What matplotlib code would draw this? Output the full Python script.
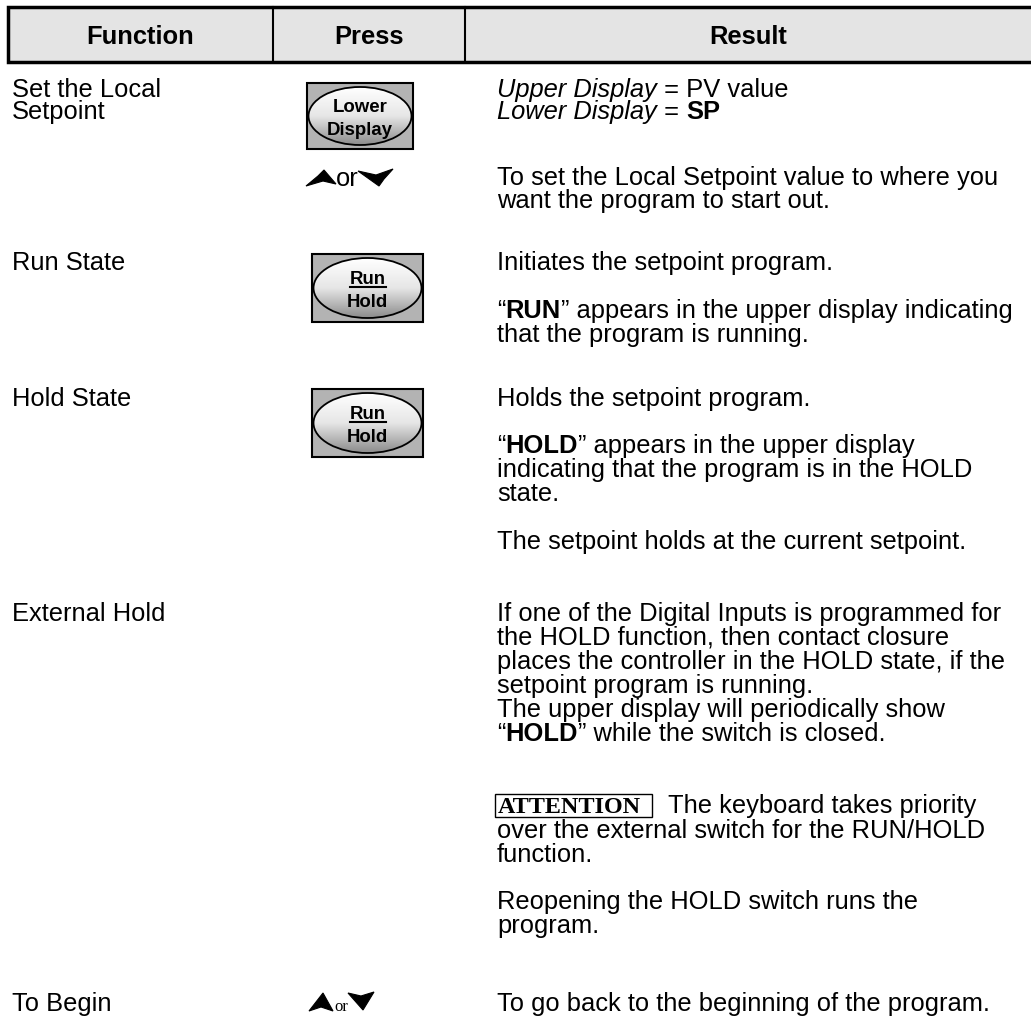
import numpy as np
import matplotlib.pyplot as plt
from matplotlib.patches import Rectangle, Ellipse, Polygon
from matplotlib.colors import LinearSegmentedColormap

plt.rcParams['font.family'] = ['Liberation Sans', 'DejaVu Sans']

# Данные таблицы
headers = ['Function', 'Press', 'Result']
function_labels = ['Set the Local', 'Setpoint', 'Run State', 'Hold State', 'External Hold', 'To Begin']
button_tops = ['Lower', 'Run', 'Run']
button_bottoms = ['Display', 'Hold', 'Hold']
button_underline = [False, True, True]
attention_word = 'ATTENTION'
result_lines = [
    [('Upper Display', 'i'), (' = PV value', 'n')],
    [('Lower Display', 'i'), (' = ', 'n'), ('SP', 'b')],
    [('To set the Local Setpoint value to where you', 'n')],
    [('want the program to start out.', 'n')],
    [('Initiates the setpoint program.', 'n')],
    [('\u201c', 'n'), ('RUN', 'b'), ('\u201d appears in the upper display indicating', 'n')],
    [('that the program is running.', 'n')],
    [('Holds the setpoint program.', 'n')],
    [('\u201c', 'n'), ('HOLD', 'b'), ('\u201d appears in the upper display', 'n')],
    [('indicating that the program is in the HOLD', 'n')],
    [('state.', 'n')],
    [('The setpoint holds at the current setpoint.', 'n')],
    [('If one of the Digital Inputs is programmed for', 'n')],
    [('the HOLD function, then contact closure', 'n')],
    [('places the controller in the HOLD state, if the', 'n')],
    [('setpoint program is running.', 'n')],
    [('The upper display will periodically show', 'n')],
    [('\u201c', 'n'), ('HOLD', 'b'), ('\u201d while the switch is closed.', 'n')],
    [('The keyboard takes priority', 'n')],
    [('over the external switch for the RUN/HOLD', 'n')],
    [('function.', 'n')],
    [('Reopening the HOLD switch runs the', 'n')],
    [('program.', 'n')],
    [('To go back to the beginning of the program.', 'n')],
]

# Разметка (пиксели, y вниз)
W, H = 1031, 1023
fs = 18.4
function_y = [97, 119, 270, 406, 621, 1011]
result_y = [97, 119, 185, 208, 270, 318, 342, 406, 453, 477, 501, 549,
            621, 645, 669, 693, 717, 741, 813, 838, 862, 909, 933, 1011]
result_x = [497] * len(result_lines)
result_x[18] = 668
button_boxes = [(307, 83, 106, 66), (312, 254, 111, 68), (312, 389, 111, 68)]

fig = plt.figure(figsize=(W / 100, H / 100), dpi=100)
ax = fig.add_axes([0, 0, 1, 1])
ax.axis('off')
renderer = fig.canvas.get_renderer()

# Шапка таблицы
ax.add_patch(Rectangle((8, 7), 1040, 55, fc='#e4e4e4', ec='black', lw=2.5))
for xv in [273, 465]:
    ax.plot([xv, xv], [7, 62], color='black', lw=1.5)
for name, xc in zip(headers, [140, 369, 748]):
    ax.text(xc, 44, name, ha='center', va='baseline', fontsize=fs, fontweight='bold')

# Первая колонка
for label, yb in zip(function_labels, function_y):
    ax.text(12, yb, label, va='baseline', fontsize=fs)

styles = {'n': dict(), 'i': dict(fontstyle='italic'), 'b': dict(fontweight='bold')}


def run_width(s, size=fs, **kw):
    t1 = ax.text(0, 0, s + '|', fontsize=size, **kw)
    t2 = ax.text(0, 0, '|', fontsize=size, **kw)
    w = t1.get_window_extent(renderer).width - t2.get_window_extent(renderer).width
    t1.remove()
    t2.remove()
    return w


# Третья колонка, с разным начертанием
for runs, x0, yb in zip(result_lines, result_x, result_y):
    x = x0
    for s, st in runs:
        ax.text(x, yb, s, va='baseline', fontsize=fs, **styles[st])
        x += run_width(s, **styles[st])

# Рамка ATTENTION
ax.add_patch(Rectangle((495, 794), 157, 23, fc='none', ec='black', lw=1.0))
ax.text(498, 813, attention_word, va='baseline', fontsize=17.4, fontweight='bold',
        family=['Liberation Serif', 'DejaVu Serif'])

# Кнопки
cmap = LinearSegmentedColormap.from_list('btn', ['#ffffff', '#e6e6e6', '#8c8c8c'])
grad = np.linspace(0, 1, 200).reshape(-1, 1)
for (x0, y0, w, h), top, bot, ul in zip(button_boxes, button_tops, button_bottoms, button_underline):
    ax.add_patch(Rectangle((x0, y0), w, h, fc='#b3b3b3', ec='black', lw=1.5))
    ell = Ellipse((x0 + w / 2, y0 + h / 2), w - 3, h - 8, fc='none', ec='black', lw=1.3)
    im = ax.imshow(grad, cmap=cmap, extent=(x0, x0 + w, y0 + h - 4, y0 + 4),
                   aspect='auto', interpolation='bilinear', zorder=2)
    ax.add_patch(ell)
    ell.set_zorder(3)
    im.set_clip_path(ell)
    xc = x0 + w / 2
    ax.text(xc, y0 + h / 2 - 4, top, ha='center', va='baseline', fontsize=13.4,
            fontweight='bold', zorder=4)
    ax.text(xc, y0 + h / 2 + 19, bot, ha='center', va='baseline', fontsize=13.4,
            fontweight='bold', zorder=4)
    if ul:
        tw = run_width(top, size=13.4, fontweight='bold')
        ax.plot([xc - tw / 2, xc + tw / 2], [y0 + h / 2 - 1, y0 + h / 2 - 1],
                color='black', lw=1.5, zorder=4)

# Стрелки «вверх или вниз»
up1 = np.array([(-16, 8), (-4, -2), (2, -8), (14, 6), (1, 3)])
down1 = np.array([(-18, -6), (0, -2), (17, -8), (8, 2), (3, 9)])
up2 = np.array([(-12, 9), (2, -9), (12, 9), (0, 5)])
down2 = np.array([(-13, -8), (0, -5), (13, -9), (2, 9)])
for shape, cx, cy in [(up1, 322, 178), (down1, 376, 177), (up2, 321, 1002), (down2, 361, 1001)]:
    ax.add_patch(Polygon(shape + [cx, cy], closed=True, fc='black', ec='black', lw=0.8))
ax.text(336, 186, 'or', va='baseline', fontsize=fs)
ax.text(334, 1011, 'or', va='baseline', fontsize=12, family=['Liberation Serif', 'DejaVu Serif'])

ax.set_xlim(0, W)
ax.set_ylim(H, 0)
fig.savefig('out.png', dpi=100, facecolor='white')
